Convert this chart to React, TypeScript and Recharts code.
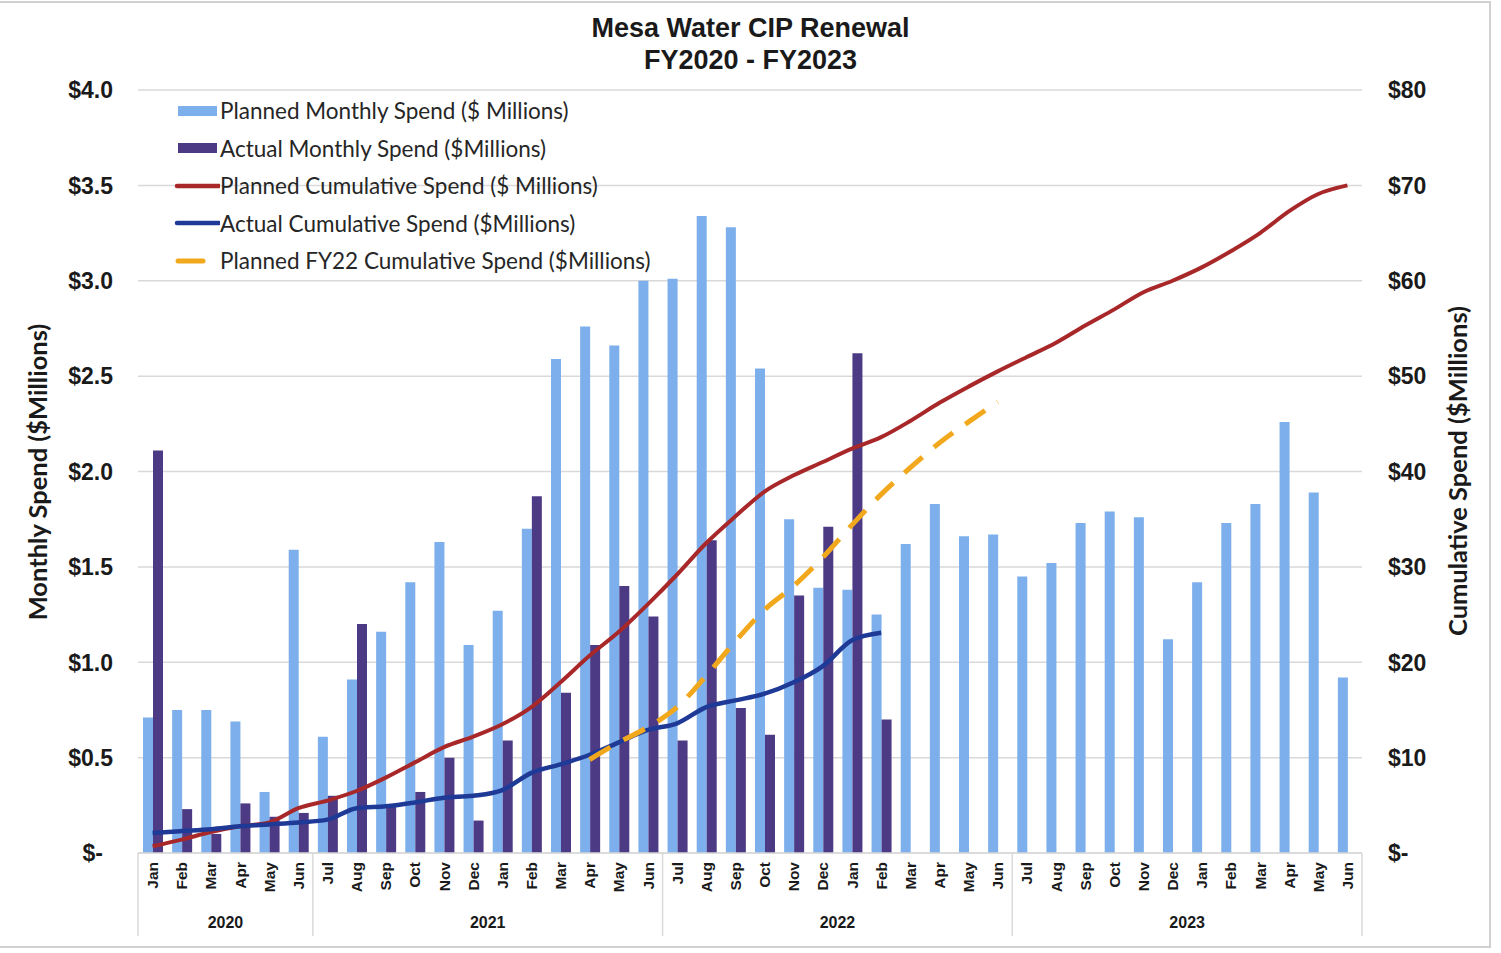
import React from "react";
import { ComposedChart, Bar, Line, XAxis, YAxis, CartesianGrid, Legend } from "recharts";

// fiscal-year month axis, Jan 2020 .. Jun 2023
const MONTHS = [
  "Jan", "Feb", "Mar", "Apr", "May", "Jun",
  "Jul", "Aug", "Sep", "Oct", "Nov", "Dec", "Jan", "Feb", "Mar", "Apr", "May", "Jun",
  "Jul", "Aug", "Sep", "Oct", "Nov", "Dec", "Jan", "Feb", "Mar", "Apr", "May", "Jun",
  "Jul", "Aug", "Sep", "Oct", "Nov", "Dec", "Jan", "Feb", "Mar", "Apr", "May", "Jun",
];

const YEAR_GROUPS = [
  { label: "2020", start: 0, size: 6 },
  { label: "2021", start: 6, size: 12 },
  { label: "2022", start: 18, size: 12 },
  { label: "2023", start: 30, size: 12 },
];

// $ millions
const PLANNED_MONTHLY = [
  0.71, 0.75, 0.75, 0.69, 0.32, 1.59,
  0.61, 0.91, 1.16, 1.42, 1.63, 1.09, 1.27, 1.70, 2.59, 2.76, 2.66, 3.00,
  3.01, 3.34, 3.28, 2.54, 1.75, 1.39, 1.38, 1.25, 1.62, 1.83, 1.66, 1.67,
  1.45, 1.52, 1.73, 1.79, 1.76, 1.12, 1.42, 1.73, 1.83, 2.26, 1.89, 0.92,
];

const ACTUAL_MONTHLY = [
  2.11, 0.23, 0.10, 0.26, 0.19, 0.21,
  0.30, 1.20, 0.25, 0.32, 0.50, 0.17, 0.59, 1.87, 0.84, 1.09, 1.40, 1.24,
  0.59, 1.64, 0.76, 0.62, 1.35, 1.71, 2.62, 0.70,
];

const PLANNED_CUMULATIVE = [
  0.7, 1.4, 2.2, 2.8, 3.2, 4.7,
  5.5, 6.5, 7.9, 9.5, 11.1, 12.2, 13.5, 15.3, 17.9, 20.7, 23.2, 26.1,
  29.2, 32.5, 35.3, 37.9, 39.6, 41.0, 42.4, 43.6, 45.3, 47.2, 48.9, 50.5,
  52.0, 53.5, 55.3, 57.0, 58.8, 60.0, 61.4, 63.1, 65.0, 67.3, 69.1, 70.0,
];

const ACTUAL_CUMULATIVE = [
  2.1, 2.3, 2.5, 2.8, 3.0, 3.2,
  3.5, 4.7, 4.9, 5.3, 5.8, 6.0, 6.6, 8.4, 9.3, 10.3, 11.6, 12.9,
  13.6, 15.3, 16.0, 16.7, 17.9, 19.6, 22.3, 23.1,
];

// starts Apr 2021 (index 15), ends Jun 2022
const FY22_START = 15;
const PLANNED_FY22_CUMULATIVE = [
  9.8, 11.6, 13.2, 15.3, 18.6, 22.2, 25.5, 28.0, 31.0, 34.4, 37.6, 40.4, 43.0, 45.2, 47.3,
];

const LEFT_TICKS = [0, 0.5, 1, 1.5, 2, 2.5, 3, 3.5, 4];
const RIGHT_TICKS = [0, 10, 20, 30, 40, 50, 60, 70, 80];

const data = MONTHS.map((month, i) => ({
  month,
  planned: PLANNED_MONTHLY[i],
  actual: ACTUAL_MONTHLY[i] ?? null,
  plannedCum: PLANNED_CUMULATIVE[i],
  actualCum: ACTUAL_CUMULATIVE[i] ?? null,
  fy22Cum: i >= FY22_START ? PLANNED_FY22_CUMULATIVE[i - FY22_START] ?? null : null,
}));

const W = 1501;
const H = 953;
const PLOT_LEFT = 138;
const PLOT_RIGHT = 1362;
const PLOT_BOTTOM = 853;
const BAND = (PLOT_RIGHT - PLOT_LEFT) / MONTHS.length;

const BLUE = "#7cafeb";
const PURPLE = "#4d3a85";
const RED = "#a8282a";
const NAVY = "#1f3a96";
const ORANGE = "#f2a81d";
const GRID = "#d9d9d9";

const ARIAL = "'Liberation Sans', Arial, sans-serif";
const CALIBRI = "Lato, 'Open Sans', sans-serif";

const LEGEND_ITEMS = [
  { label: "Planned Monthly Spend ($ Millions)", kind: "bar", color: BLUE },
  { label: "Actual Monthly Spend ($Millions)", kind: "bar", color: PURPLE },
  { label: "Planned Cumulative Spend ($ Millions)", kind: "line", color: RED },
  { label: "Actual Cumulative Spend ($Millions)", kind: "line", color: NAVY },
  { label: "Planned FY22 Cumulative Spend ($Millions)", kind: "dash", color: ORANGE },
];

const renderLegend = () => (
  <div style={{ fontFamily: CALIBRI, fontSize: 22.5, color: "#262626" }}>
    {LEGEND_ITEMS.map((item) => (
      <div key={item.label} style={{ display: "flex", alignItems: "center", height: 37.5 }}>
        <svg width={48} height={14} style={{ display: "block" }}>
          {item.kind === "bar" && <rect x={6} y={2} width={39} height={10} fill={item.color} />}
          {item.kind === "line" && (
            <line x1={5} x2={47} y1={7} y2={7} stroke={item.color} strokeWidth={4.5} strokeLinecap="round" />
          )}
          {item.kind === "dash" && (
            <line x1={6} x2={31} y1={7} y2={7} stroke={item.color} strokeWidth={5} strokeLinecap="round" />
          )}
        </svg>
        <span style={{ whiteSpace: "nowrap" }}>{item.label}</span>
      </div>
    ))}
  </div>
);

const MonthTick = (props: any) => {
  const { x, payload } = props;
  const i = props.index ?? payload.index;
  const group = YEAR_GROUPS.find((g) => g.start === i);
  const left = x - BAND / 2;
  return (
    <g>
      <text
        x={x}
        y={862}
        dy="0.36em"
        transform={`rotate(-90 ${x} 862)`}
        textAnchor="end"
        fontFamily={ARIAL}
        fontWeight="bold"
        fontSize={15.5}
        fill="#1a1a1a"
      >
        {payload.value}
      </text>
      {group && <line x1={left} x2={left} y1={PLOT_BOTTOM} y2={936} stroke={GRID} strokeWidth={1.5} />}
      {group && (
        <text
          x={left + (group.size * BAND) / 2}
          y={928}
          textAnchor="middle"
          fontFamily={ARIAL}
          fontWeight="bold"
          fontSize={16}
          fill="#1a1a1a"
        >
          {group.label}
        </text>
      )}
      {i === MONTHS.length - 1 && (
        <line x1={x + BAND / 2} x2={x + BAND / 2} y1={PLOT_BOTTOM} y2={936} stroke={GRID} strokeWidth={1.5} />
      )}
    </g>
  );
};

const LeftTick = (props: any) => {
  const { x, y, payload } = props;
  const v = payload.value;
  return (
    <text x={v === 0 ? x - 10 : x} y={y} dy="0.36em" textAnchor="end" fontFamily={ARIAL} fontWeight="bold" fontSize={23} fill="#1a1a1a">
      {v === 0 ? "$-" : `$${v.toFixed(1)}`}
    </text>
  );
};

const RightTick = (props: any) => {
  const { x, y, payload } = props;
  const v = payload.value;
  return (
    <text x={x} y={y} dy="0.36em" textAnchor="start" fontFamily={ARIAL} fontWeight="bold" fontSize={23} fill="#1a1a1a">
      {v === 0 ? "$-" : `$${v}`}
    </text>
  );
};

const AxisTitle = ({ cx, cy, text }: { cx: number; cy: number; text: string }) => (
  <text
    x={cx}
    y={cy}
    dy="0.36em"
    transform={`rotate(-90 ${cx} ${cy})`}
    textAnchor="middle"
    fontFamily={CALIBRI}
    fontWeight="bold"
    fontSize={25.5}
    fill="#1a1a1a"
  >
    {text}
  </text>
);

export default function App() {
  return (
    <div style={{ position: "absolute", left: 0, top: 0, width: W, height: H, background: "#fff" }}>
      <div
        style={{
          position: "absolute",
          left: 0,
          top: 1,
          width: 1489,
          height: 943,
          borderTop: "2px solid #d0d0d0",
          borderRight: "2px solid #d0d0d0",
          borderBottom: "2px solid #d0d0d0",
        }}
      />
      <div
        style={{
          position: "absolute",
          left: 0,
          top: 12,
          width: W,
          textAlign: "center",
          fontFamily: ARIAL,
          fontWeight: "bold",
          fontSize: 27,
          lineHeight: "32px",
          color: "#1a1a1a",
        }}
      >
        Mesa Water CIP Renewal
        <br />
        FY2020 - FY2023
      </div>
      <div style={{ position: "absolute", left: 0, top: 0 }}>
        <ComposedChart
          width={W}
          height={H}
          data={data}
          margin={{ top: 90, right: 0, bottom: 10, left: 0 }}
          barGap={0}
        >
          <CartesianGrid vertical={false} stroke={GRID} strokeWidth={1.5} yAxisId="left" />
          <XAxis
            dataKey="month"
            interval={0}
            tickLine={false}
            axisLine={{ stroke: GRID, strokeWidth: 1.5 }}
            height={90}
            tick={<MonthTick />}
          />
          <YAxis
            yAxisId="left"
            domain={[0, 4]}
            ticks={LEFT_TICKS}
            width={138}
            axisLine={false}
            tickLine={false}
            tickSize={0}
            tickMargin={25}
            tick={<LeftTick />}
            label={<AxisTitle cx={38} cy={472} text="Monthly Spend ($Millions)" />}
          />
          <YAxis
            yAxisId="right"
            orientation="right"
            domain={[0, 80]}
            ticks={RIGHT_TICKS}
            width={139}
            axisLine={false}
            tickLine={false}
            tickSize={0}
            tickMargin={26}
            tick={<RightTick />}
            label={<AxisTitle cx={1458} cy={471} text="Cumulative Spend ($Millions)" />}
          />
          <Legend
            layout="vertical"
            align="center"
            verticalAlign="middle"
            content={renderLegend}
            wrapperStyle={{ left: 172, top: 92, width: "auto" }}
          />
          <Bar yAxisId="left" dataKey="planned" fill={BLUE} barSize={10} isAnimationActive={false} />
          <Bar yAxisId="left" dataKey="actual" fill={PURPLE} barSize={10} isAnimationActive={false} />
          <Line
            yAxisId="right"
            type="monotone"
            dataKey="plannedCum"
            stroke={RED}
            strokeWidth={4}
            dot={false}
            activeDot={false}
            isAnimationActive={false}
          />
          <Line
            yAxisId="right"
            type="monotone"
            dataKey="actualCum"
            stroke={NAVY}
            strokeWidth={4.5}
            dot={false}
            activeDot={false}
            isAnimationActive={false}
          />
          <Line
            yAxisId="right"
            type="monotone"
            dataKey="fy22Cum"
            stroke={ORANGE}
            strokeWidth={5}
            strokeDasharray="24 15"
            dot={false}
            activeDot={false}
            isAnimationActive={false}
          />
        </ComposedChart>
      </div>
    </div>
  );
}
